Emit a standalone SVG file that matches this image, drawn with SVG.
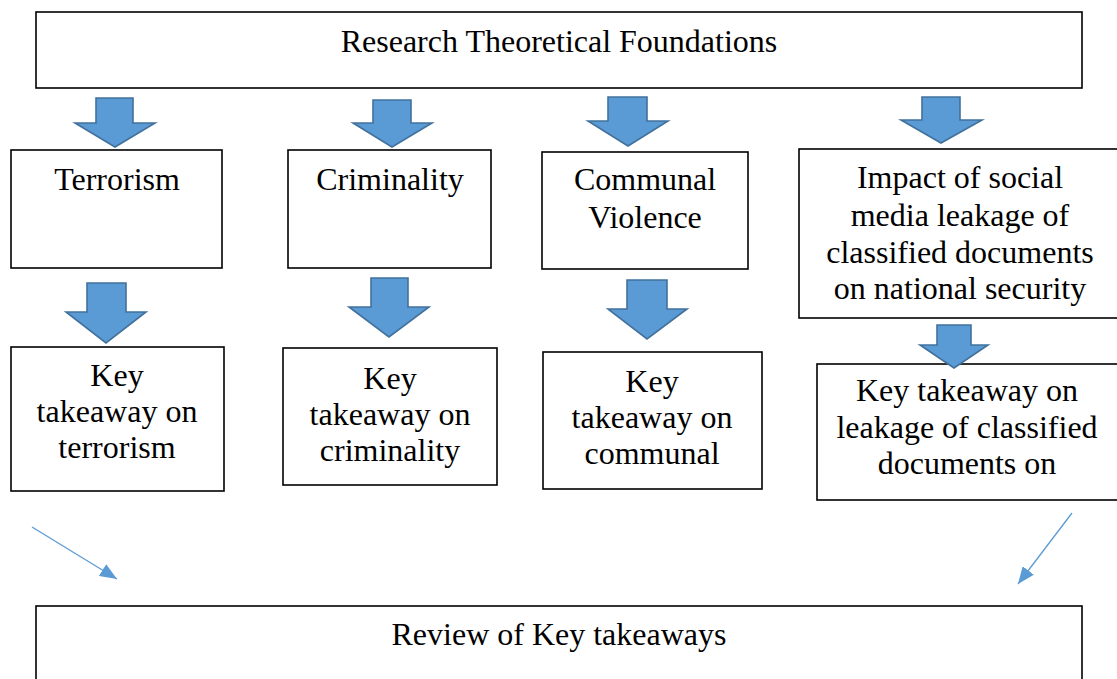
<svg xmlns="http://www.w3.org/2000/svg" width="1117" height="679" viewBox="0 0 1117 679">
<style>
.box{fill:#fff;stroke:#000;stroke-width:1.6}
.blk{fill:#5B9BD5;stroke:#41719C;stroke-width:1.6;stroke-linejoin:miter}
.t{font-family:"Liberation Serif","Times New Roman",serif;font-size:32px;fill:#000;text-anchor:middle}
.ln{stroke:#5B9BD5;stroke-width:1.3;fill:none}
</style>
<defs>
<marker id="ah" markerUnits="userSpaceOnUse" markerWidth="18" markerHeight="14" refX="17" refY="7" orient="auto">
<path d="M0,0 L17,7 L0,14 Z" fill="#5B9BD5"/>
</marker>
</defs>
<rect width="1117" height="679" fill="#fff"/>
<g id="top"><rect class="box" x="36" y="12" width="1046" height="76"/><text class="t" x="559" y="52">Research Theoretical Foundations</text></g>
<g id="terrorism"><rect class="box" x="11" y="150" width="211" height="118"/><text class="t" x="117" y="190">Terrorism</text></g>
<g id="criminality"><rect class="box" x="288" y="150" width="203" height="118"/><text class="t" x="390" y="190">Criminality</text></g>
<g id="communal"><rect class="box" x="542" y="152" width="206" height="117"/><text class="t" x="645" y="190">Communal</text><text class="t" x="645" y="228">Violence</text></g>
<g id="impact"><rect class="box" x="799" y="149" width="330" height="169"/><text class="t" x="960" y="188">Impact of social</text><text class="t" x="960" y="226">media leakage of</text><text class="t" x="960" y="263">classified documents</text><text class="t" x="960" y="299">on national security</text></g>
<g id="key-terrorism"><rect class="box" x="11" y="347" width="213" height="144"/><text class="t" x="117" y="386">Key</text><text class="t" x="117" y="422">takeaway on</text><text class="t" x="117" y="458">terrorism</text></g>
<g id="key-criminality"><rect class="box" x="283" y="348" width="214" height="137"/><text class="t" x="390" y="389">Key</text><text class="t" x="390" y="425">takeaway on</text><text class="t" x="390" y="461">criminality</text></g>
<g id="key-communal"><rect class="box" x="543" y="352" width="219" height="137"/><text class="t" x="652" y="392">Key</text><text class="t" x="652" y="428">takeaway on</text><text class="t" x="652" y="464">communal</text></g>
<g id="key-leakage"><rect class="box" x="817" y="364" width="310" height="136"/><text class="t" x="967" y="401">Key takeaway on</text><text class="t" x="967" y="438">leakage of classified</text><text class="t" x="967" y="474">documents on</text></g>
<g id="review"><rect class="box" x="36" y="606" width="1046" height="100"/><text class="t" x="559" y="645">Review of Key takeaways</text></g>
<g id="connectors">
<polygon class="blk" points="96,98 133,98 133,123 155,123 115,147 75,123 96,123"/>
<polygon class="blk" points="373,100 411,100 411,123 432,123 392,147 353,123 373,123"/>
<polygon class="blk" points="608,97 647,97 647,121 668,121 628,146 588,121 608,121"/>
<polygon class="blk" points="922,97 960,97 960,120 982,120 941,143 901,120 922,120"/>
<polygon class="blk" points="87,283 126,283 126,312 146,312 106,343 66,312 87,312"/>
<polygon class="blk" points="371,278 408,278 408,307 429,307 389,337 349,307 371,307"/>
<polygon class="blk" points="627,280 667,280 667,309 687,309 647,339 608,309 627,309"/>
<polygon class="blk" points="937,325 971,325 971,345 988,345 954,368 920,345 937,345"/>
<line class="ln" x1="32" y1="527" x2="117" y2="579" marker-end="url(#ah)"/>
<line class="ln" x1="1072" y1="513" x2="1018" y2="584" marker-end="url(#ah)"/>
</g>
</svg>
